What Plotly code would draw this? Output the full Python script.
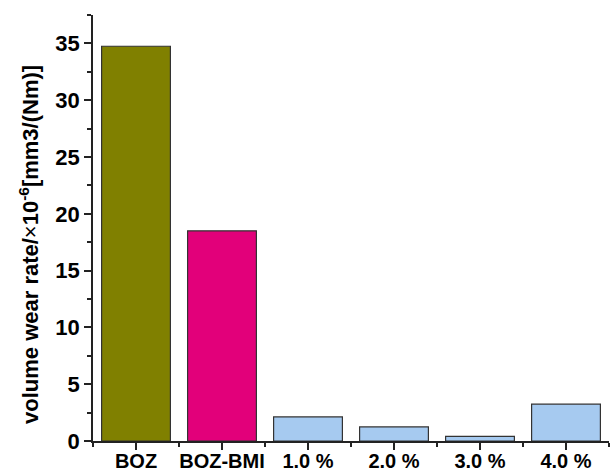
import plotly.graph_objects as go

categories = ["BOZ", "BOZ-BMI", "1.0 %", "2.0 %", "3.0 %", "4.0 %"]
wear_rate = [34.75, 18.5, 2.12, 1.24, 0.41, 3.24]
bar_colors = ["#808000", "#E2007A", "#A6CAF0", "#A6CAF0", "#A6CAF0", "#A6CAF0"]
y_ticks = [0, 5, 10, 15, 20, 25, 30, 35]
y_title = "volume wear rate/<span style='font-weight:normal'>×</span>10<sup>-6</sup>[mm3/(Nm)]"

positions = list(range(len(categories)))
FONT = "Arial, 'Liberation Sans', sans-serif"

fig = go.Figure(go.Bar(
    x=positions, y=wear_rate, width=0.8,
    marker=dict(color=bar_colors, line=dict(color="#333333", width=1.2)),
))

fig.update_layout(
    width=610, height=472,
    margin=dict(l=93, r=1, t=15, b=31),
    plot_bgcolor="white", paper_bgcolor="white",
    showlegend=False,
    font=dict(family=FONT, color="black"),
)
fig.update_xaxes(
    range=[-0.5, 5.5], tickvals=positions, ticktext=categories,
    showline=True, linecolor="#222222", linewidth=1.5,
    ticks="outside", ticklen=7, tickwidth=1.5, tickcolor="#222222",
    minor=dict(tick0=0.5, dtick=1, ticks="outside", ticklen=4, tickwidth=1.5, tickcolor="#222222"),
    tickfont=dict(size=20, weight="bold"),
    ticklabelstandoff=-6,
    showgrid=False, zeroline=False, automargin=False,
)
fig.update_yaxes(
    range=[0, 37.5], tickvals=y_ticks,
    showline=True, linecolor="#222222", linewidth=1.5,
    ticks="outside", ticklen=7, tickwidth=1.5, tickcolor="#222222",
    minor=dict(dtick=2.5, ticks="outside", ticklen=4, tickwidth=1.5, tickcolor="#222222"),
    tickfont=dict(size=22, weight="bold"),
    showgrid=False, zeroline=False, automargin=False,
)
fig.add_annotation(
    text=y_title, textangle=-90,
    xref="paper", yref="paper", x=0, y=0.5,
    xanchor="center", yanchor="middle",
    xshift=-64, yshift=-17, showarrow=False,
    font=dict(size=22, weight="bold", family=FONT, color="black"),
)

fig.write_html("out.html")
